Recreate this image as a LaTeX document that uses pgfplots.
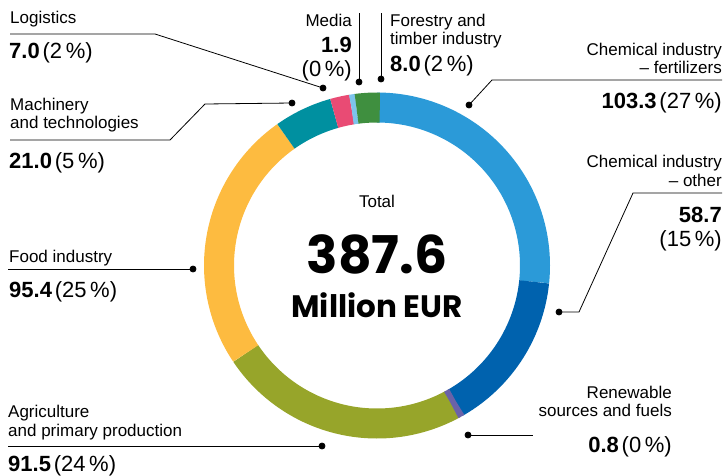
\documentclass[border=0pt]{standalone}
\usepackage{pgfplots}
\pgfplotsset{compat=1.18}
\usepackage{fontspec}
\setmainfont{Liberation Sans}
\newfontfamily\pop{Poppins}
\definecolor{cfert}{HTML}{2B9AD8}
\definecolor{cother}{HTML}{0062AE}
\definecolor{crenew}{HTML}{6B62A8}
\definecolor{cagri}{HTML}{97A52A}
\definecolor{cfood}{HTML}{FDBB40}
\definecolor{cmach}{HTML}{0090A0}
\definecolor{clog}{HTML}{E94B74}
\definecolor{cmedia}{HTML}{7DC4EC}
\definecolor{cforest}{HTML}{3F8F3F}
% segment: cumulative start, cumulative end (million EUR), colour; total 387.6
\newcommand{\seg}[3]{%
  \addplot[draw=#3, line width=30pt, line cap=butt, domain={90-(#2)*360/387.6}:{90-(#1)*360/387.6}, samples=80, forget plot]
    ({377+158*cos(x)}, {265.5-158*sin(x)});
}
\newcommand{\lab}{\fontsize{17}{20}\selectfont}
\newcommand{\num}[1]{{\fontsize{22}{25}\selectfont\bfseries #1}}
\newcommand{\pct}[1]{{\fontsize{22}{25}\selectfont (#1\,\%)}}
\pgfplotsset{callout/.style={black, line width=0.8pt, mark=*, mark size=3pt, mark options={fill=black, draw=black, solid}, forget plot}}
\begin{document}
\begin{tikzpicture}
\begin{axis}[x=1pt, y=1pt, xmin=0, xmax=728, ymin=0, ymax=474, y dir=reverse,
  hide axis, clip=false, scale only axis]
\path (axis cs:0,0) rectangle (axis cs:728,474);
% ring: values 103.3, 58.7, 0.8, 91.5, 95.4, 21.0, 7.0, 1.9, 8.0
\seg{0}{103.3}{cfert}
\seg{103.3}{162.0}{cother}
\seg{162.8}{254.3}{cagri}
\seg{254.3}{349.7}{cfood}
\seg{349.7}{370.7}{cmach}
\seg{370.7}{377.7}{clog}
\seg{377.7}{379.6}{cmedia}
\seg{379.6}{387.6}{cforest}
% 0.8 segment (162.0 to 162.8), drawn with a minimum visible width as in the original
\seg{161.3}{163.5}{crenew}
% callouts
\addplot[callout, mark indices={3}] coordinates {(10,34) (155,34) (323,88)};
\addplot[callout, mark indices={4}] coordinates {(10,140) (170,140) (205,104) (292,103)};
\addplot[callout, mark indices={2}] coordinates {(359,13) (359,82)};
\addplot[callout, mark indices={2}] coordinates {(381,13) (381,79)};
\addplot[callout, mark indices={3}] coordinates {(722,80) (492,80) (469,105)};
\addplot[callout, mark indices={4}] coordinates {(722,193) (633,193) (579,312) (559,312)};
\addplot[callout, mark indices={1}] coordinates {(468,435) (533,435)};
\addplot[callout, mark indices={1}] coordinates {(193,269) (8,269)};
\addplot[callout, mark indices={1}] coordinates {(322,446) (8,446)};
% center
\node[anchor=base, inner sep=0] at (axis cs:377,207) {\lab Total};
\node[anchor=base, inner sep=0] at (axis cs:377,273) {\pop\fontsize{52}{56}\selectfont\bfseries 387.6};
\node[anchor=base, inner sep=0] at (axis cs:377,317) {\pop\fontsize{31}{34}\selectfont\bfseries Million EUR};
% left labels
\node[anchor=base west, inner sep=0] at (axis cs:10,23) {\lab Logistics};
\node[anchor=base west, inner sep=0] at (axis cs:9,58) {\num{7.0} \pct{2}};
\node[anchor=base west, inner sep=0] at (axis cs:10,110) {\lab Machinery};
\node[anchor=base west, inner sep=0] at (axis cs:10,128) {\lab and technologies};
\node[anchor=base west, inner sep=0] at (axis cs:9,168) {\num{21.0} \pct{5}};
\node[anchor=base west, inner sep=0] at (axis cs:9,262) {\lab Food industry};
\node[anchor=base west, inner sep=0] at (axis cs:9,297) {\num{95.4} \pct{25}};
\node[anchor=base west, inner sep=0] at (axis cs:8,417) {\lab Agriculture};
\node[anchor=base west, inner sep=0] at (axis cs:8,436) {\lab and primary production};
\node[anchor=base west, inner sep=0] at (axis cs:8,471) {\num{91.5} \pct{24}};
% top labels
\node[anchor=base east, inner sep=0] at (axis cs:352,26) {\lab Media};
\node[anchor=base east, inner sep=0] at (axis cs:352,52) {\num{1.9}};
\node[anchor=base east, inner sep=0] at (axis cs:352,76) {\pct{0}};
\node[anchor=base west, inner sep=0] at (axis cs:390,26) {\lab Forestry and};
\node[anchor=base west, inner sep=0] at (axis cs:390,44) {\lab timber industry};
\node[anchor=base west, inner sep=0] at (axis cs:390,71) {\num{8.0} \pct{2}};
% right labels
\node[anchor=base east, inner sep=0] at (axis cs:722,55) {\lab Chemical industry};
\node[anchor=base east, inner sep=0] at (axis cs:722,73) {\lab – fertilizers};
\node[anchor=base east, inner sep=0] at (axis cs:722,108) {\num{103.3} \pct{27}};
\node[anchor=base east, inner sep=0] at (axis cs:722,167) {\lab Chemical industry};
\node[anchor=base east, inner sep=0] at (axis cs:722,186) {\lab – other};
\node[anchor=base east, inner sep=0] at (axis cs:722,222) {\num{58.7}};
\node[anchor=base east, inner sep=0] at (axis cs:722,246) {\pct{15}};
\node[anchor=base east, inner sep=0] at (axis cs:672,398) {\lab Renewable};
\node[anchor=base east, inner sep=0] at (axis cs:672,416) {\lab sources and fuels};
\node[anchor=base east, inner sep=0] at (axis cs:672,452) {\num{0.8} \pct{0}};
\end{axis}
\end{tikzpicture}
\end{document}
